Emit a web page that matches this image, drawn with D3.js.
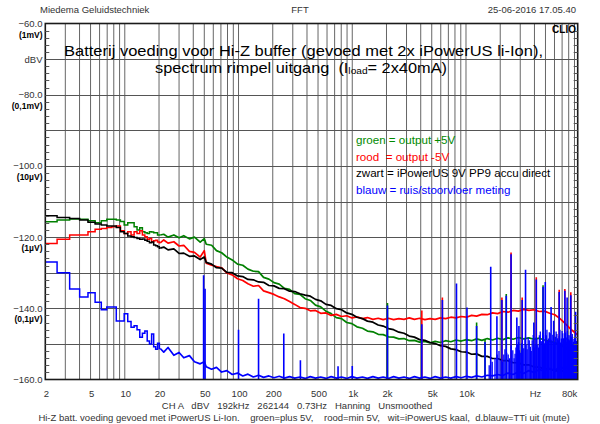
<!DOCTYPE html>
<html>
<head>
<meta charset="utf-8">
<script src="https://cdn.jsdelivr.net/npm/d3@7"></script>
<style>
body{margin:0;background:#fff}
svg{display:block}
text{font-family:"Liberation Sans",Arial,sans-serif}
</style>
</head>
<body>
<svg id="chart"></svg>
<script>
// FFT bins below ~20 Hz (0.73 Hz resolution), drawn as steps
var binHz = [1.46, 2.20, 2.93, 3.66, 4.39, 5.13, 5.86, 6.59, 7.32, 8.06, 8.79, 9.52, 10.25, 10.99,
             11.72, 12.45, 13.18, 13.92, 14.65, 15.38, 16.11, 16.85, 17.58, 18.31, 19.04, 19.78, 20.51];

var greenLow = [-115.7, -115.7, -115.2, -114.9, -115.0, -115.4, -116.0, -115.4, -115.0, -115.0, -115.2, -115.6, -116.6, -116.0,
                -116.0, -117.1, -118.0, -117.4, -118.5, -118.8, -119.0, -118.5, -118.6, -118.8, -118.8, -119.4, -119.4];
var redLow   = [-121.8, -121.8, -120.6, -119.4, -119.4, -118.5, -117.8, -117.6, -117.3, -117.1, -116.9, -118.2, -119.0, -118.5,
                -119.4, -118.5, -119.0, -118.2, -119.4, -119.9, -120.6, -120.4, -121.3, -121.0, -120.9, -121.4, -121.6];
var blackLow = [-114.0, -114.0, -114.5, -114.8, -115.2, -115.8, -116.3, -116.6, -116.9, -116.9, -117.3, -118.5, -119.0, -119.7,
                -119.9, -120.1, -120.4, -120.6, -120.5, -120.9, -121.2, -121.6, -121.4, -122.2, -122.4, -122.7, -123.1];
var blueLow  = [-127.0, -127.0, -130.0, -134.6, -136.8, -135.6, -138.3, -140.4, -139.6, -139.6, -143.6, -143.6, -141.5, -143.7,
                -145.3, -144.9, -146.0, -148.1, -147.0, -146.4, -149.2, -150.0, -147.2, -150.8, -151.5, -149.8, -151.3];

// higher frequencies
var hiHz = [22, 24, 27, 30, 33, 37, 41, 46, 50, 52,
            58, 64, 71, 79, 88, 98, 109, 121, 135, 150,
            166, 185, 205, 228, 253, 281, 312, 347, 385, 428,
            475, 528, 587, 652, 724, 805, 894, 993, 1100, 1230,
            1360, 1520, 1690, 1870, 2080, 2310, 2570, 2850, 3170, 3520,
            3910, 4350, 4830, 5360, 5960, 6620, 7360, 8170, 9080, 10100,
            11200, 12400, 13800, 15400, 17100, 19000, 21100, 23400, 26000, 28900,
            32100, 35700, 39700, 44100, 49000, 54400, 60400, 67100, 74600, 82900,
            92100, 96000];

var greenHi = [-119.2, -120.0, -119.4, -120.2, -119.6, -120.5, -120.0, -121.4, -120.4, -122.0,
               -122.3, -123.8, -124.4, -125.6, -126.4, -127.6, -127.9, -129.0, -129.6, -129.7,
               -131.3, -131.8, -132.8, -133.2, -134.4, -134.7, -135.9, -136.1, -137.3, -137.8,
               -139.1, -139.6, -140.8, -141.5, -142.6, -142.9, -144.0, -144.3, -145.2, -145.6,
               -146.4, -146.6, -147.3, -147.4, -148.0, -148.1, -148.6, -148.5, -149.1, -149.0,
               -149.5, -149.3, -149.7, -149.3, -149.6, -149.1, -149.4, -148.9, -149.2, -148.8,
               -149.1, -148.6, -149.0, -148.5, -148.9, -148.4, -148.8, -148.3, -148.7, -148.2,
               -148.6, -148.3, -148.7, -148.4, -148.9, -149.3, -149.6, -150.3, -151.0, -151.9,
               -153.4, -154.0];

var redHi = [-120.8, -121.7, -121.3, -122.5, -122.3, -124.0, -124.3, -125.6, -123.8, -127.3,
             -127.9, -128.3, -128.6, -130.1, -130.6, -131.7, -132.2, -133.1, -133.8, -133.6,
             -135.1, -135.6, -136.1, -136.8, -137.3, -138.1, -138.9, -139.8, -140.0, -140.7,
             -140.6, -141.4, -141.3, -142.0, -141.7, -142.3, -142.1, -142.7, -142.4, -142.9,
             -142.6, -143.1, -142.8, -143.2, -142.8, -143.2, -142.9, -143.1, -142.7, -143.1,
             -142.8, -143.2, -142.9, -143.1, -142.7, -142.9, -142.5, -142.7, -142.3, -142.5,
             -142.0, -142.2, -141.7, -141.8, -141.3, -141.5, -140.9, -141.1, -140.6, -140.8,
             -140.3, -140.6, -140.4, -140.9, -140.8, -141.4, -141.8, -142.9, -144.3, -145.8,
             -147.0, -147.5];

var blackHi = [-122.8, -123.6, -123.3, -124.6, -124.5, -125.4, -125.3, -126.3, -125.6, -127.1,
               -127.6, -128.6, -128.7, -129.9, -130.0, -130.9, -131.1, -131.9, -132.0, -132.6,
               -132.7, -133.6, -133.7, -134.4, -134.5, -135.2, -135.3, -135.9, -136.3, -136.6,
               -137.5, -137.9, -138.9, -139.2, -140.1, -140.4, -141.3, -141.7, -142.5, -142.9,
               -143.6, -143.9, -144.7, -145.0, -145.7, -146.0, -146.7, -147.0, -147.8, -148.1,
               -148.8, -149.0, -149.6, -149.9, -150.5, -150.7, -151.4, -151.6, -152.2, -152.3,
               -152.9, -152.8, -153.5, -153.5, -154.1, -154.1, -154.7, -154.7, -155.3, -155.3,
               -155.9, -155.9, -156.5, -156.5, -157.1, -157.0, -157.6, -157.5, -157.8, -157.4,
               -157.1, -156.9];

var blueHi = [-152.3, -151.0, -153.2, -152.4, -153.9, -153.3, -155.0, -155.6, -155.0, -156.4,
              -157.1, -156.6, -157.9, -157.5, -158.6, -158.2, -159.0, -158.5, -159.3, -158.8,
              -159.4, -159.0, -159.5, -159.1, -159.6, -159.2, -159.6, -159.3, -159.7, -159.2,
              -159.6, -159.3, -159.7, -159.2, -159.6, -159.3, -159.7, -159.2, -159.6, -159.3,
              -159.7, -159.2, -159.6, -159.3, -159.7, -159.2, -159.6, -159.3, -159.7, -159.2,
              -159.6, -159.3, -159.7, -159.2, -159.6, -159.3, -159.6, -159.2, -159.5, -159.1,
              -159.4, -159.0, -159.3, -158.8, -159.0, -158.6, -158.9, -158.2, -158.6, -157.8,
              -158.3, -157.5, -158.0, -157.2, -157.7, -156.9, -157.4, -156.5, -157.0, -156.0,
              -155.2, -154.5];

// interference lines (blue peak, with red / green tips where they stick out)
var spikeHz    = [49.3, 50.8, 100, 150, 250, 350, 750, 1000, 2040, 4090, 6200, 8250, 10200, 12400, 14700, 16500, 18700,
                  20700, 22600, 24900, 28000, 29200, 31200, 33400, 39500, 41500, 47600, 49800, 56000, 59000, 66000, 74000,
                  77500, 83500, 92000];
var spikeBlue  = [-130.7, -134.5, -146.0, -137.3, -147.1, -154.6, -156.3, -156.2, -139.2, -144.5, -137.7, -133.0, -139.8,
                  -145.0, -149.5, -128.3, -142.2, -137.7, -136.5, -124.8, -142.6, -145.0, -137.7, -129.2, -144.0, -131.9,
                  -134.0, -132.6, -139.6, -143.5, -135.4, -135.1, -137.0, -136.3, -141.0];
var spikeRed   = [null, null, null, null, null, null, null, null, null, -140.6, -137.0, null, null,
                  null, null, null, null, -137.0, null, -124.3, null, null, -137.0, null, null, -131.3,
                  null, null, null, null, -134.8, -134.6, null, -135.5, null];
var spikeGreen = [null, null, null, null, null, null, null, null, -138.5, null, null, null, null,
                  -144.0, -148.6, null, null, null, -136.0, null, null, null, null, null, null, null,
                  -133.5, null, null, null, null, null, null, null, null];

// blue noise grass above 15 kHz
var grassHz = [16000, 17000, 18000, 18800, 19500, 20300, 21000, 21500, 22000, 22800, 23500, 24200, 25000, 25800,
               26500, 27000, 27500, 28300, 29000, 29600, 30000, 30800, 31500, 32200, 33000, 33800, 34500, 35200,
               36000, 36800, 37500, 38200, 39000, 39800, 40500, 41200, 42000, 42800, 43500, 44200, 45000, 45800,
               46500, 47200, 48000, 49000, 50000, 50800, 51500, 52200, 53000, 54000, 55000, 56000, 57000, 58000,
               59000, 60000, 61000, 62000, 63000, 64000, 65000, 66000, 67000, 68000, 69000, 70000, 71000, 72000,
               73000, 74000, 75000, 76000, 77000, 78000, 79000, 80000, 81000, 82000, 83000, 84000, 85000, 86000,
               87000, 88000, 89000, 90000, 91000, 92000, 93000, 94000, 95000, 96000];
var grassDb = [-156.0, -155.0, -154.0, -153.0, -152.0, -154.5, -155.0, -153.0, -151.5, -152.5, -153.0, -154.0, -150.5, -151.8,
               -154.0, -152.8, -151.0, -150.2, -149.5, -151.8, -152.5, -149.8, -150.0, -151.2, -148.5, -150.3, -151.5, -148.2,
               -149.0, -150.8, -152.0, -149.0, -147.5, -151.0, -150.0, -148.2, -148.5, -150.3, -151.0, -147.6, -146.5, -149.2,
               -149.5, -146.8, -147.5, -149.8, -150.0, -147.6, -146.0, -149.2, -148.5, -146.7, -147.0, -148.8, -149.5, -147.4,
               -146.5, -149.5, -148.0, -146.5, -147.2, -148.4, -149.0, -147.8, -146.0, -149.6, -148.5, -146.4, -147.0, -148.4,
               -149.5, -147.8, -146.8, -149.4, -148.2, -146.4, -147.5, -148.7, -149.0, -147.6, -146.5, -149.6, -148.0, -147.2,
               -150.0, -149.4, -148.6, -148.1, -151.0, -150.4, -150.2, -149.2, -152.0, -151.0];

var xTickHz   = [2, 5, 10, 20, 50, 100, 200, 500, 1000, 2000, 5000, 10000, 40000, 80000];
var xTickText = ["2", "5", "10", "20", "50", "100", "200", "500", "1k", "2k", "5k", "10k", "Hz", "80k"];
var yTickDb   = [-60, -80, -100, -120, -140, -160];
var voltDb    = [-60, -80, -100, -120, -140];
var voltText  = ["(1mV)", "(0,1mV)", "(10\u00b5V)", "(1\u00b5V)", "(0,1\u00b5V)"];

var legendText  = ["groen = output +5V", "rood  = output -5V", "zwart = iPowerUS 9V PP9 accu direct", "blauw = ruis/stoorvloer meting"];
var legendColor = ["#008a00", "#ff0000", "#000000", "#0000ff"];

var width = 600, height = 424;
var plot = {left:45.3, right:577.7, top:23.5, bottom:379.5};

var svg = d3.select("#chart")
    .attr("width", width)
    .attr("height", height);

var x = d3.scaleLog()
    .domain([2, 96000])
    .range([plot.left, plot.right]);

var y = d3.scaleLinear()
    .domain([-160, -60])
    .range([plot.bottom, plot.top]);

svg.append("defs").append("clipPath")
    .attr("id", "clip")
    .append("rect")
    .attr("x", plot.left)
    .attr("y", plot.top)
    .attr("width", plot.right - plot.left)
    .attr("height", plot.bottom - plot.top);

//grid
var grid = svg.append("g").classed("grid", true);

grid.selectAll("line.v")
    .data(x.ticks().filter(function(f){ return f > 2; }))
    .enter()
    .append("line")
    .attr("x1", function(f){ return x(f); })
    .attr("x2", function(f){ return x(f); })
    .attr("y1", plot.top)
    .attr("y2", plot.bottom)
    .attr("stroke", "#666")
    .attr("stroke-width", 1);

grid.selectAll("line.h")
    .data(d3.range(-150, -60, 10))
    .enter()
    .append("line")
    .attr("x1", plot.left)
    .attr("x2", plot.right)
    .attr("y1", function(d){ return Math.round(y(d)) + 0.5; })
    .attr("y2", function(d){ return Math.round(y(d)) + 0.5; })
    .attr("stroke", "#555")
    .attr("stroke-width", 1);

//traces
var traces = svg.append("g").attr("clip-path", "url(#clip)");

var stepLine = d3.line()
    .x(function(d){ return x(d[0]); })
    .y(function(d){ return y(d[1]); })
    .curve(d3.curveStep);

var plainLine = d3.line()
    .x(function(d){ return x(d[0]); })
    .y(function(d){ return y(d[1]); });

var drawTrace = function(low, hi, color)
{
    var lowPts = binHz.map(function(f, i){ return [f, low[i]]; });
    var hiPts = [lowPts[lowPts.length - 1]].concat(hiHz.map(function(f, i){ return [f, hi[i]]; }));

    traces.append("path")
        .attr("d", stepLine(lowPts))
        .attr("fill", "none")
        .attr("stroke", color)
        .attr("stroke-width", 1.5);

    traces.append("path")
        .attr("d", plainLine(hiPts))
        .attr("fill", "none")
        .attr("stroke", color)
        .attr("stroke-width", 1.7)
        .attr("stroke-linejoin", "round");
};

var drawSpikes = function(freqs, peaks, color, w)
{
    var pts = freqs.map(function(f, i){ return [f, peaks[i]]; })
        .filter(function(p){ return p[1] !== null; });
    traces.append("g")
        .selectAll("line")
        .data(pts)
        .enter()
        .append("line")
        .attr("x1", function(p){ return x(p[0]); })
        .attr("x2", function(p){ return x(p[0]); })
        .attr("y1", y(-160))
        .attr("y2", function(p){ return y(p[1]); })
        .attr("stroke", color)
        .attr("stroke-width", w);
};

drawTrace(greenLow, greenHi, "#008000");
drawTrace(redLow, redHi, "#ff0000");
drawTrace(blackLow, blackHi, "#000000");
drawSpikes(spikeHz, spikeGreen, "#008000", 1.6);
drawSpikes(spikeHz, spikeRed, "#ff0000", 1.6);
drawTrace(blueLow, blueHi, "#0000ff");
drawSpikes(grassHz, grassDb, "#0000ff", 1.3);
drawSpikes(spikeHz, spikeBlue, "#0000ff", 1.6);

//frame and small ticks
svg.append("rect")
    .attr("x", plot.left)
    .attr("y", plot.top)
    .attr("width", plot.right - plot.left)
    .attr("height", plot.bottom - plot.top)
    .attr("fill", "none")
    .attr("stroke", "#1a1a1a")
    .attr("stroke-width", 1.6);

var minor = d3.range(-158, -60, 2);
svg.append("g").selectAll("line")
    .data(minor)
    .enter()
    .append("line")
    .attr("x1", plot.left)
    .attr("x2", plot.left + 4)
    .attr("y1", function(d){ return Math.round(y(d)) + 0.5; })
    .attr("y2", function(d){ return Math.round(y(d)) + 0.5; })
    .attr("stroke", "#555");
svg.append("g").selectAll("line")
    .data(minor)
    .enter()
    .append("line")
    .attr("x1", plot.right - 4)
    .attr("x2", plot.right)
    .attr("y1", function(d){ return Math.round(y(d)) + 0.5; })
    .attr("y2", function(d){ return Math.round(y(d)) + 0.5; })
    .attr("stroke", "#555");

//axis labels
var labels = svg.append("g").classed("labels", true);
var fmt = d3.format(".1f");

labels.selectAll("text.ydb")
    .data(yTickDb)
    .enter()
    .append("text")
    .attr("x", 42.5)
    .attr("y", function(d){ return y(d) + 3.5; })
    .attr("text-anchor", "end")
    .attr("font-size", 9.5)
    .attr("fill", "#333")
    .text(function(d){ return fmt(d); });

labels.selectAll("text.volt")
    .data(voltDb)
    .enter()
    .append("text")
    .attr("x", 42.5)
    .attr("y", function(d, i){ return y(d) + 14; })
    .attr("text-anchor", "end")
    .attr("font-size", 8.5)
    .attr("font-weight", "bold")
    .attr("font-family", "DejaVu Sans Mono, monospace")
    .attr("fill", "#000")
    .text(function(d, i){ return voltText[i]; });

labels.append("text")
    .attr("x", 42.5)
    .attr("y", y(-70) + 3.5)
    .attr("text-anchor", "end")
    .attr("font-size", 9.5)
    .attr("fill", "#333")
    .text("dBV");

labels.selectAll("text.xt")
    .data(xTickHz)
    .enter()
    .append("text")
    .attr("x", function(f){ return x(f) + 1; })
    .attr("y", 397)
    .attr("text-anchor", "middle")
    .attr("font-size", 9.5)
    .attr("fill", "#333")
    .text(function(f, i){ return xTickText[i]; });

//header and footer
labels.append("text")
    .attr("x", 40).attr("y", 12.5)
    .attr("font-size", 9.5).attr("fill", "#333")
    .text("Miedema Geluidstechniek");
labels.append("text")
    .attr("x", 300).attr("y", 12.5)
    .attr("text-anchor", "middle")
    .attr("font-size", 9.5).attr("fill", "#333")
    .text("FFT");
labels.append("text")
    .attr("x", 576).attr("y", 12.5)
    .attr("text-anchor", "end")
    .attr("font-size", 9.5).attr("fill", "#333")
    .text("25-06-2016 17.05.40");
labels.append("text")
    .attr("x", 576).attr("y", 33)
    .attr("text-anchor", "end")
    .attr("font-size", 10)
    .attr("font-weight", "bold")
    .attr("font-family", "Liberation Serif, serif")
    .text("CLIO");

labels.append("text")
    .attr("x", 297).attr("y", 409)
    .attr("text-anchor", "middle")
    .attr("font-size", 9.5).attr("fill", "#333")
    .style("white-space", "pre")
    .text("CH A   dBV   192kHz   262144   0.73Hz   Hanning   Unsmoothed");
labels.append("text")
    .attr("x", 304).attr("y", 420.5)
    .attr("text-anchor", "middle")
    .attr("font-size", 9.5).attr("fill", "#333")
    .style("white-space", "pre")
    .text("Hi-Z batt. voeding gevoed met iPowerUS Li-Ion.    groen=plus 5V,    rood=min 5V,   wit=iPowerUS kaal,  d.blauw=TTi uit (mute)");

//title
var title = svg.append("g");
title.append("text")
    .attr("x", 64).attr("y", 56)
    .attr("font-size", 14.5)
    .attr("font-family", "DejaVu Sans, sans-serif")
    .attr("textLength", 479)
    .attr("lengthAdjust", "spacingAndGlyphs")
    .text("Batterij voeding voor Hi-Z buffer (gevoed met 2x iPowerUS li-Ion),");
var t2 = title.append("text")
    .attr("x", 155).attr("y", 73)
    .attr("font-size", 14.5)
    .attr("font-family", "DejaVu Sans, sans-serif")
    .attr("textLength", 292)
    .attr("lengthAdjust", "spacingAndGlyphs")
    .style("white-space", "pre");
t2.append("tspan").text("spectrum rimpel uitgang  (I");
t2.append("tspan").attr("font-size", 9).attr("dy", 1).text("load");
t2.append("tspan").attr("dy", -1).text("= 2x40mA)");

//legend
svg.append("g").selectAll("text")
    .data(legendText)
    .enter()
    .append("text")
    .attr("x", 356)
    .attr("y", function(d, i){ return 144 + i * 16.7; })
    .attr("font-size", 11.6)
    .attr("font-family", "DejaVu Sans, sans-serif")
    .attr("fill", function(d, i){ return legendColor[i]; })
    .style("white-space", "pre")
    .text(function(d){ return d; });
</script>
</body>
</html>
